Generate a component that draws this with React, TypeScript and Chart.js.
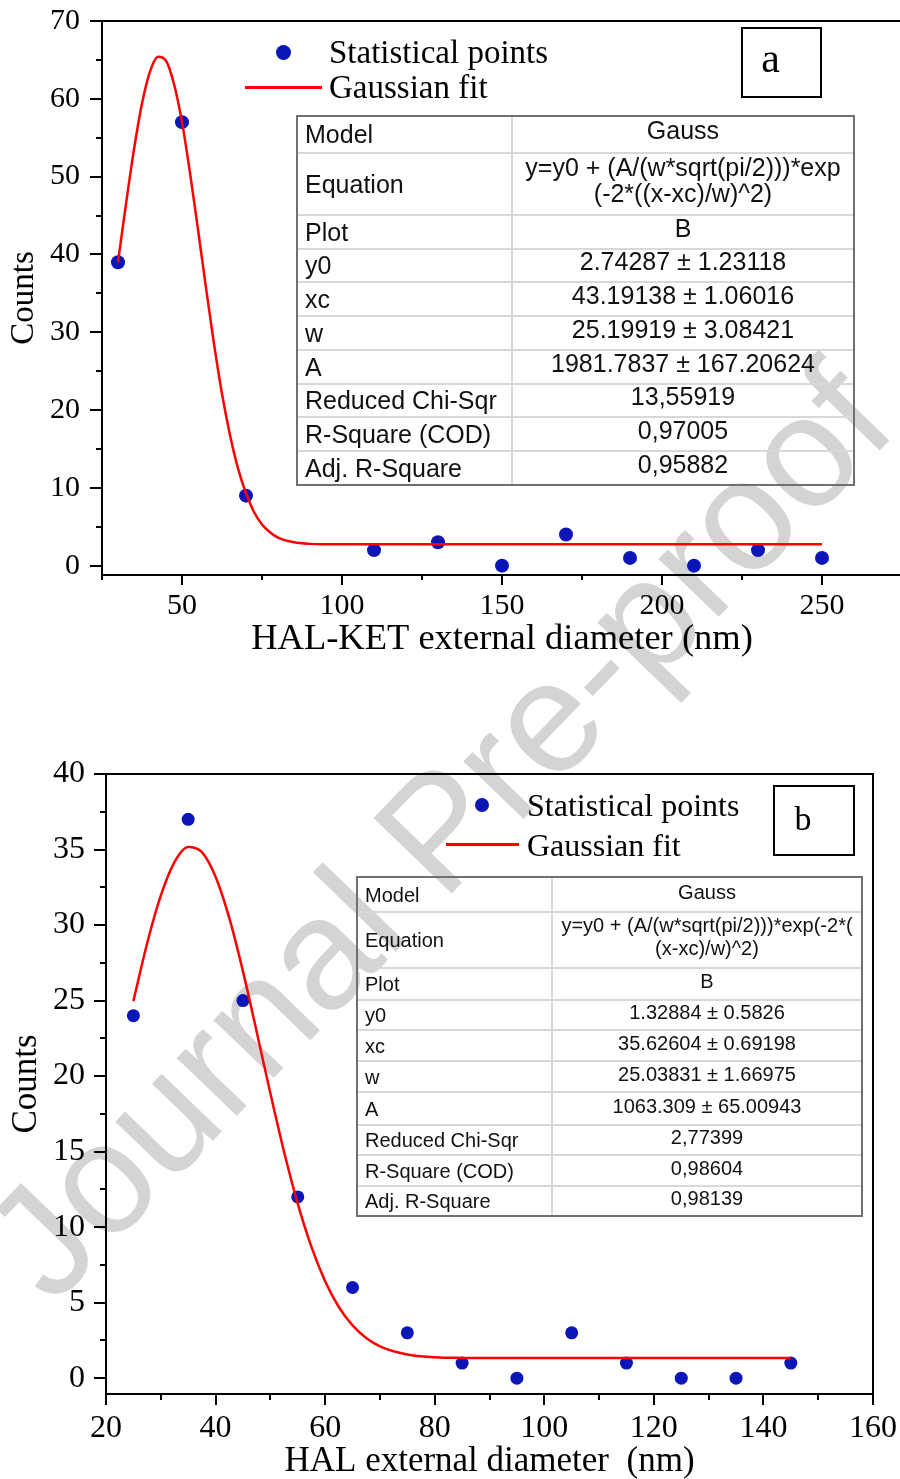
import React, { useEffect, useRef } from 'react';
import { Chart, registerables } from 'chart.js';

Chart.register(...registerables);

const SERIF = '"Liberation Serif", "Times New Roman", serif';
const SANS = '"Liberation Sans", Arial, sans-serif';

// ---------- Panel a : HAL-KET ----------
const A_X = [30, 50, 70, 110, 130, 150, 170, 190, 210, 230, 250];
const A_COUNTS = [39, 57, 9, 2, 3, 0, 4, 1, 0, 2, 1];
const A_FIT_X = [30, 32.5, 35, 37.5, 40, 42.5, 45, 47.5, 50, 52.5, 55, 57.5, 60, 62.5, 65, 67.5, 70, 72.5, 75, 77.5, 80, 85, 90, 95, 100, 150, 200, 250];
const A_FIT_Y = [39.0, 46.5, 53.5, 59.4, 63.5, 65.4, 64.9, 61.9, 57.0, 50.5, 43.2, 35.7, 28.5, 22.1, 16.8, 12.5, 9.3, 6.9, 5.3, 4.3, 3.6, 3.0, 2.8, 2.75, 2.74, 2.74, 2.74, 2.74];
const A_X_TICKS = [50, 100, 150, 200, 250];
const A_X_MINOR = [25, 75, 125, 175, 225, 275];
const A_Y_TICKS = [0, 10, 20, 30, 40, 50, 60, 70];
const A_Y_MINOR = [5, 15, 25, 35, 45, 55, 65];
const A_TABLE_LABELS = ['Model', 'Equation', 'Plot', 'y0', 'xc', 'w', 'A', 'Reduced Chi-Sqr', 'R-Square (COD)', 'Adj. R-Square'];
const A_TABLE_VALUES = ['Gauss', 'y=y0 + (A/(w*sqrt(pi/2)))*exp\n(-2*((x-xc)/w)^2)', 'B', '2.74287 ± 1.23118', '43.19138 ± 1.06016', '25.19919 ± 3.08421', '1981.7837 ± 167.20624', '13,55919', '0,97005', '0,95882'];

// ---------- Panel b : HAL ----------
const B_X = [25, 35, 45, 55, 65, 75, 85, 95, 105, 115, 125, 135, 145];
const B_COUNTS = [24, 37, 25, 12, 6, 3, 1, 0, 3, 1, 0, 0, 1];
const B_FIT_X = [25, 27.5, 30, 32.5, 35, 37.5, 40, 42.5, 45, 47.5, 50, 52.5, 55, 57.5, 60, 62.5, 65, 67.5, 70, 75, 80, 85, 90, 100, 145];
const B_FIT_Y = [24.96, 28.78, 31.95, 34.17, 35.17, 34.83, 33.2, 30.47, 26.93, 22.94, 18.86, 14.99, 11.56, 8.69, 6.42, 4.71, 3.49, 2.65, 2.11, 1.57, 1.39, 1.34, 1.33, 1.33, 1.33];
const B_X_TICKS = [20, 40, 60, 80, 100, 120, 140, 160];
const B_X_MINOR = [30, 50, 70, 90, 110, 130, 150];
const B_Y_TICKS = [0, 5, 10, 15, 20, 25, 30, 35, 40];
const B_Y_MINOR = [2.5, 7.5, 12.5, 17.5, 22.5, 27.5, 32.5, 37.5];
const B_TABLE_LABELS = ['Model', 'Equation', 'Plot', 'y0', 'xc', 'w', 'A', 'Reduced Chi-Sqr', 'R-Square (COD)', 'Adj. R-Square'];
const B_TABLE_VALUES = ['Gauss', 'y=y0 + (A/(w*sqrt(pi/2)))*exp(-2*(\n(x-xc)/w)^2)', 'B', '1.32884 ± 0.5826', '35.62604 ± 0.69198', '25.03831 ± 1.66975', '1063.309 ± 65.00943', '2,77399', '0,98604', '0,98139'];

const DOT = '#0a16b8';
const RED = '#ff0000';

const axisDecor = {
  id: 'axisDecor',
  afterDraw(chart: any, _args: any, o: any) {
    const { ctx, chartArea: ca, scales } = chart;
    const xs = scales.x;
    const ys = scales.y;
    ctx.save();
    ctx.strokeStyle = '#000';
    ctx.lineWidth = 2;
    const line = (x1: number, y1: number, x2: number, y2: number) => {
      ctx.beginPath();
      ctx.moveTo(x1, y1);
      ctx.lineTo(x2, y2);
      ctx.stroke();
    };
    o.xMajor.forEach((v: number) => {
      const p = Math.round(xs.getPixelForValue(v));
      line(p, ca.bottom, p, ca.bottom + o.xMajorLen);
    });
    o.xMinor.forEach((v: number) => {
      const p = Math.round(xs.getPixelForValue(v));
      line(p, ca.bottom, p, ca.bottom + o.xMinorLen);
    });
    o.yMajor.forEach((v: number) => {
      const p = Math.round(ys.getPixelForValue(v));
      line(ca.left - o.yMajorLen, p, ca.left, p);
    });
    o.yMinor.forEach((v: number) => {
      const p = Math.round(ys.getPixelForValue(v));
      line(ca.left - o.yMinorLen, p, ca.left, p);
    });
    line(ca.left - 1, ca.top, ca.right + 1, ca.top);
    if (o.rightFrame) line(ca.right, ca.top, ca.right, ca.bottom + 1);
    ctx.restore();
  },
};

function makeConfig(p: any) {
  return {
    type: 'scatter',
    data: {
      datasets: [
        {
          type: 'line',
          label: 'Gaussian fit',
          data: p.fitX.map((x: number, i: number) => ({ x, y: p.fitY[i] })),
          borderColor: RED,
          borderWidth: 2.5,
          pointRadius: 0,
          fill: false,
          cubicInterpolationMode: 'monotone',
          order: 0,
        },
        {
          type: 'scatter',
          label: 'Statistical points',
          data: p.x.map((x: number, i: number) => ({ x, y: p.counts[i] })),
          pointRadius: p.pointRadius,
          pointBackgroundColor: DOT,
          pointBorderWidth: 0,
          pointBorderColor: DOT,
          order: 1,
        },
      ],
    },
    options: {
      responsive: false,
      animation: false,
      events: [],
      layout: { padding: p.padding },
      plugins: {
        legend: { display: false },
        tooltip: { enabled: false },
        axisDecor: {
          xMajor: p.xTicks, xMinor: p.xMinor, yMajor: p.yTicks, yMinor: p.yMinor,
          xMajorLen: p.xMajorLen, xMinorLen: p.xMinorLen, yMajorLen: 12, yMinorLen: 6,
          rightFrame: p.rightFrame,
        },
      },
      scales: {
        x: {
          type: 'linear',
          min: p.xMin,
          max: p.xMax,
          afterBuildTicks: (s: any) => { s.ticks = p.xTicks.map((v: number) => ({ value: v })); },
          afterFit: (s: any) => { s.height = p.xAxisHeight; s.paddingLeft = 0; s.paddingRight = 0; },
          grid: { display: false, drawTicks: false },
          border: { display: true, color: '#000', width: 2 },
          ticks: {
            color: '#000',
            padding: p.xTickPad,
            maxRotation: 0,
            autoSkip: false,
            font: { family: SERIF, size: p.tickSize },
            callback: (v: any) => String(v),
          },
          title: {
            display: true,
            text: p.xTitle,
            color: '#000',
            font: { family: SERIF, size: p.xTitleSize, lineHeight: p.xTitleLH },
            padding: { top: 0, bottom: 0 },
          },
        },
        y: {
          type: 'linear',
          min: p.yMin,
          max: p.yMax,
          afterBuildTicks: (s: any) => { s.ticks = p.yTicks.map((v: number) => ({ value: v })); },
          afterFit: (s: any) => { s.width = p.yAxisWidth; s.paddingTop = 0; s.paddingBottom = 0; },
          grid: { display: false, drawTicks: false },
          border: { display: true, color: '#000', width: 2 },
          ticks: {
            color: '#000',
            padding: p.yTickPad,
            autoSkip: false,
            font: { family: SERIF, size: p.tickSize },
            callback: (v: any) => String(v),
          },
          title: {
            display: true,
            text: 'Counts',
            color: '#000',
            font: { family: SERIF, size: p.yTitleSize },
            padding: { top: p.yTitlePad, bottom: 0 },
          },
        },
      },
    },
    plugins: [axisDecor],
  };
}

const PANEL_A = {
  x: A_X, counts: A_COUNTS, fitX: A_FIT_X, fitY: A_FIT_Y,
  xTicks: A_X_TICKS, xMinor: A_X_MINOR, yTicks: A_Y_TICKS, yMinor: A_Y_MINOR,
  xMin: 25, xMax: 275, yMin: -1.2, yMax: 70,
  padding: { left: 0, top: 21, right: 8, bottom: 0 },
  xAxisHeight: 85, yAxisWidth: 102,
  xTickPad: 13, yTickPad: 22, tickSize: 30,
  xTitle: 'HAL-KET external diameter (nm)', xTitleSize: 36.5, xTitleLH: 1.15,
  yTitleSize: 33, yTitlePad: 5,
  xMajorLen: 10, xMinorLen: 5, rightFrame: false, pointRadius: 7,
};

const PANEL_B = {
  x: B_X, counts: B_COUNTS, fitX: B_FIT_X, fitY: B_FIT_Y,
  xTicks: B_X_TICKS, xMinor: B_X_MINOR, yTicks: B_Y_TICKS, yMinor: B_Y_MINOR,
  xMin: 20, xMax: 160, yMin: -1.05, yMax: 40,
  padding: { left: 0, top: 74, right: 27, bottom: 0 },
  xAxisHeight: 85, yAxisWidth: 106,
  xTickPad: 15, yTickPad: 21, tickSize: 32,
  xTitle: 'HAL external diameter  (nm)', xTitleSize: 35, xTitleLH: 1.0,
  yTitleSize: 35, yTitlePad: 6,
  xMajorLen: 11, xMinorLen: 6, rightFrame: true, pointRadius: 6.5,
};

function ChartCanvas({ panel, left, top, width, height }: any) {
  const ref = useRef<HTMLCanvasElement | null>(null);
  useEffect(() => {
    const chart = new Chart(ref.current as any, makeConfig(panel) as any);
    return () => chart.destroy();
  }, [panel]);
  return (
    <canvas
      ref={ref}
      width={width}
      height={height}
      style={{ position: 'absolute', left, top, width, height, display: 'block', zIndex: 1 }}
    />
  );
}

function FitTable({ left, top, width, col1, rowHeights, fontSize, labels, values, shift, eqLH }: any) {
  return (
    <div
      style={{
        position: 'absolute', left, top, width, border: '2px solid #707070', boxSizing: 'border-box',
        fontFamily: SANS, fontSize, color: '#111', zIndex: 2,
      }}
    >
      {labels.map((lab: string, i: number) => (
        <div
          key={i}
          style={{
            display: 'flex', height: rowHeights[i], boxSizing: 'border-box',
            borderTop: i ? '2px solid #d8d8d8' : 'none',
          }}
        >
          <div
            style={{
              width: col1, boxSizing: 'border-box', borderRight: '2px solid #d8d8d8', display: 'flex',
              alignItems: 'center', paddingLeft: 7, whiteSpace: 'nowrap', lineHeight: 1,
            }}
          >
            {lab}
          </div>
          <div
            style={{
              flex: 1, display: 'flex', alignItems: 'center', justifyContent: 'center', textAlign: 'center',
              paddingBottom: shift, whiteSpace: 'pre', lineHeight: i === 1 ? eqLH : 1, boxSizing: 'border-box',
            }}
          >
            {values[i]}
          </div>
        </div>
      ))}
    </div>
  );
}

function Legend({ dotX, dotY, dotR, lineX1, lineX2, lineY, textX, y1, y2, size }: any) {
  const txt = { position: 'absolute' as const, left: textX, fontFamily: SERIF, fontSize: size, lineHeight: 1, color: '#000', whiteSpace: 'nowrap' as const, zIndex: 2 };
  return (
    <>
      <div style={{ position: 'absolute', left: dotX - dotR, top: dotY - dotR, width: dotR * 2, height: dotR * 2, borderRadius: '50%', background: DOT, zIndex: 2 }} />
      <div style={{ ...txt, top: y1 - size / 2 }}>Statistical points</div>
      <div style={{ position: 'absolute', left: lineX1, top: lineY - 1.5, width: lineX2 - lineX1, height: 3, background: RED, zIndex: 2 }} />
      <div style={{ ...txt, top: y2 - size / 2 }}>Gaussian fit</div>
    </>
  );
}

function LabelBox({ left, top, width, height, text, size, padRight, padBottom }: any) {
  return (
    <div
      style={{
        position: 'absolute', left, top, width, height, border: '2px solid #000', boxSizing: 'border-box',
        display: 'flex', alignItems: 'center', justifyContent: 'center', paddingRight: padRight, paddingBottom: padBottom,
        fontFamily: SERIF, fontSize: size, lineHeight: 1, color: '#000', zIndex: 2,
      }}
    >
      {text}
    </div>
  );
}

export default function App() {
  return (
    <div style={{ position: 'absolute', left: 0, top: 0, width: 900, height: 1479, overflow: 'hidden', background: '#fff' }}>
      <div
        style={{
          position: 'absolute', left: 437, top: 830, transform: 'translate(-50%, -50%) rotate(-46deg)',
          fontFamily: SANS, fontSize: 158, lineHeight: 1.117, color: 'rgb(212,212,212)', whiteSpace: 'nowrap', zIndex: 0,
        }}
      >
        Journal Pre-proof
      </div>

      <ChartCanvas panel={PANEL_A} left={0} top={0} width={910} height={660} />
      <Legend dotX={283} dotY={52} dotR={7.5} lineX1={245} lineX2={322} lineY={87} textX={329} y1={52} y2={87} size={33} />
      <LabelBox left={741} top={27} width={81} height={71} text="a" size={42} padRight={22} padBottom={9} />
      <FitTable
        left={296} top={115} width={559} col1={215}
        rowHeights={[35, 62, 34, 33, 34, 34, 34, 33, 34, 34]}
        fontSize={25} labels={A_TABLE_LABELS} values={A_TABLE_VALUES} shift={8} eqLH={1.05}
      />

      <ChartCanvas panel={PANEL_B} left={0} top={700} width={900} height={779} />
      <Legend dotX={482} dotY={805} dotR={7} lineX1={446} lineX2={519} lineY={844} textX={527} y1={805} y2={845} size={32} />
      <LabelBox left={773} top={785} width={82} height={71} text="b" size={34} padRight={22} padBottom={4} />
      <FitTable
        left={356} top={876} width={507} col1={195}
        rowHeights={[33, 56, 32, 30, 31, 31, 33, 30, 31, 30]}
        fontSize={20} labels={B_TABLE_LABELS} values={B_TABLE_VALUES} shift={6} eqLH={1.15}
      />
    </div>
  );
}
